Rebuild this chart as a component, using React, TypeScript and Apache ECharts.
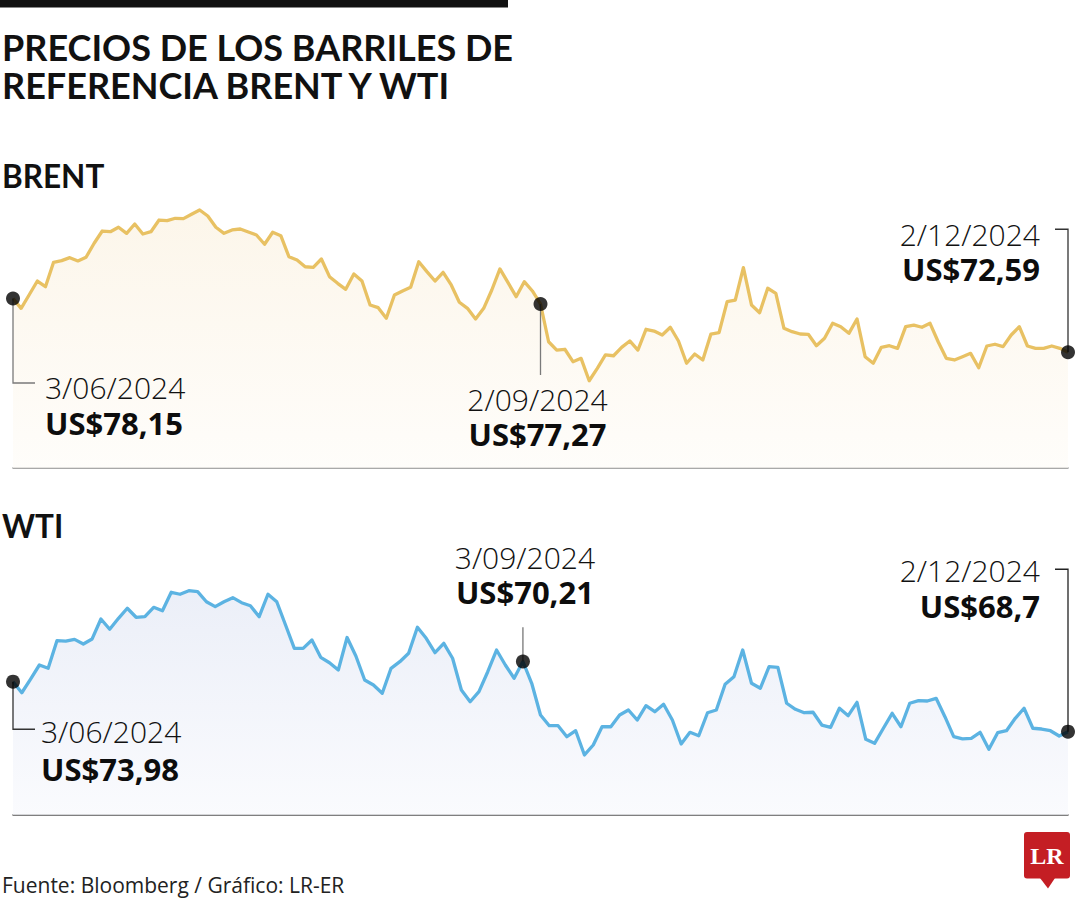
import React, { useEffect, useRef } from "react";
import * as echarts from "echarts";

// Daily closes, US$ per barrel, 3/06/2024 - 2/12/2024
const brentPrices = [
  78.16, 77.14, 78.55, 79.97, 79.38, 81.91, 82.08, 82.39, 82.05, 82.43,
  83.88, 85.15, 85.08, 85.54, 84.91, 85.88, 84.84, 85.08, 86.29, 86.22,
  86.47, 86.43, 86.88, 87.33, 86.71, 85.54, 84.91, 85.26, 85.36, 85.05,
  84.74, 83.78, 85.02, 84.67, 82.49, 82.15, 81.45, 81.39, 82.25, 80.42,
  79.73, 79.11, 80.7, 79.97, 77.49, 77.21, 76.11, 78.52, 78.94, 79.32,
  81.97, 80.94, 79.97, 80.87, 79.56, 77.77, 77.14, 76.04, 77.14, 79.04,
  81.22, 79.8, 78.35, 79.9, 78.94, 77.59, 73.68, 72.82, 72.9, 71.61,
  71.96, 69.64, 70.93, 72.31, 72.23, 73.1, 73.76, 72.82, 74.97, 74.79,
  74.38, 75.18, 73.76, 71.45, 72.41, 71.79, 74.48, 74.62, 77.83, 78.0,
  81.35, 77.49, 76.69, 79.22, 78.7, 75.07, 74.72, 74.48, 74.45, 73.27,
  74.04, 75.59, 75.24, 74.55, 76.04, 72.13, 71.45, 73.1, 73.27, 73.0,
  75.24, 75.41, 75.18, 75.59, 73.68, 71.96, 71.79, 72.13, 72.48, 70.99,
  73.24, 73.42, 73.17, 74.38, 75.24, 73.24, 73.0, 73.0, 73.24, 73.0,
  72.59,
];

const wtiPrices = [
  73.98, 72.81, 74.26, 75.74, 75.39, 78.31, 78.27, 78.45, 77.96, 78.49,
  80.6, 79.51, 80.67, 81.73, 80.78, 80.84, 81.83, 81.47, 83.42, 83.21,
  83.59, 83.48, 82.42, 81.9, 82.42, 82.85, 82.32, 82.0, 80.84, 83.21,
  82.42, 79.96, 77.5, 77.5, 78.38, 76.55, 75.98, 75.21, 78.64, 76.69,
  74.16, 73.63, 72.75, 75.39, 76.09, 76.98, 79.72, 78.56, 77.04, 78.03,
  76.45, 73.1, 71.86, 72.92, 75.03, 77.32, 75.74, 74.34, 76.11, 73.81,
  70.46, 69.33, 69.33, 68.17, 68.8, 66.24, 67.29, 69.22, 69.22, 70.46,
  70.99, 69.93, 71.44, 70.81, 71.59, 69.93, 67.4, 68.63, 68.27, 70.7,
  70.99, 73.7, 74.5, 77.32, 73.81, 73.28, 75.56, 75.5, 71.7, 71.06,
  70.7, 70.75, 69.4, 69.16, 71.17, 70.39, 71.8, 67.89, 67.47, 69.06,
  70.64, 69.22, 71.7, 71.97, 71.94, 72.22, 70.28, 68.17, 67.93, 68.0,
  68.63, 66.84, 68.59, 68.8, 70.11, 71.17, 69.06, 68.98, 68.8, 68.24,
  68.7,
];

const brentNoteIdx = [0, 65, 130];
const brentNoteDates = ["3/06/2024", "2/09/2024", "2/12/2024"];
const brentNotePrices = ["US$78,15", "US$77,27", "US$72,59"];

const wtiNoteIdx = [0, 58, 120];
const wtiNoteDates = ["3/06/2024", "3/09/2024", "2/12/2024"];
const wtiNotePrices = ["US$73,98", "US$70,21", "US$68,7"];

const chartTitle = ["PRECIOS DE LOS BARRILES DE", "REFERENCIA BRENT Y WTI"];
const panelTitles = ["BRENT", "WTI"];
const sourceText = "Fuente: Bloomberg / Gráfico: LR-ER";
const logoText = "LR";

const W = 1080;
const H = 900;

type Kind = "startBelow" | "midBelow" | "midAbove" | "endAbove";
type Layout = {
  kind: Kind;
  elbow: number;
  textDx: number;
  dateDy: number;
  priceDy: number;
  lineColor: string;
};

const brentLayouts: Layout[] = [
  { kind: "startBelow", elbow: 84.5, textDx: 32, dateDy: 89.5, priceDy: 124.8, lineColor: "#7a7a7a" },
  { kind: "midBelow", elbow: 71, textDx: -3, dateDy: 95.3, priceDy: 130.2, lineColor: "#7a7a7a" },
  { kind: "endAbove", elbow: -123, textDx: -28, dateDy: -118.1, priceDy: -83.1, lineColor: "#333333" },
];
const wtiLayouts: Layout[] = [
  { kind: "startBelow", elbow: 47.6, textDx: 28, dateDy: 50.3, priceDy: 87, lineColor: "#333333" },
  { kind: "midAbove", elbow: -34.2, textDx: 2, dateDy: -104.3, priceDy: -69, lineColor: "#777777" },
  { kind: "endAbove", elbow: -162.4, textDx: -28, dateDy: -161.2, priceDy: -125.5, lineColor: "#222222" },
];

const DATE_FONT = { fontSize: 30, lineHeight: 30, fontFamily: "'Open Sans', sans-serif", fontWeight: 300 };
const PRICE_FONT = { fontSize: 31, lineHeight: 31, fontFamily: "'Open Sans', sans-serif", fontWeight: 700 };

function buildNotes(
  chart: echarts.ECharts,
  gridIndex: number,
  data: number[],
  idxs: number[],
  dates: string[],
  prices: string[],
  layouts: Layout[]
) {
  const els: any[] = [];
  idxs.forEach((idx, k) => {
    const p = chart.convertToPixel({ gridIndex } as any, [idx, data[idx]]) as number[];
    const px = p[0];
    const py = p[1];
    const L = layouts[k];
    const stroke = { stroke: L.lineColor, lineWidth: 1.3, fill: null };
    let align = "left";
    if (L.kind === "startBelow") {
      els.push({
        type: "polyline",
        z: 10,
        shape: { points: [[px, py], [px, py + L.elbow], [px + 22, py + L.elbow]] },
        style: stroke,
      });
      align = "left";
    } else if (L.kind === "midBelow" || L.kind === "midAbove") {
      els.push({
        type: "line",
        z: 10,
        shape: { x1: px, y1: py, x2: px, y2: py + L.elbow },
        style: stroke,
      });
      align = "center";
    } else {
      els.push({
        type: "polyline",
        z: 10,
        shape: { points: [[px, py], [px, py + L.elbow], [px - 13, py + L.elbow]] },
        style: stroke,
      });
      align = "right";
    }
    els.push({
      type: "text",
      z: 11,
      x: px + L.textDx,
      y: py + L.dateDy,
      style: {
        text: dates[k],
        fill: "#111111",
        ...DATE_FONT,
        textAlign: align,
        textVerticalAlign: "middle",
        verticalAlign: "middle",
      },
    });
    els.push({
      type: "text",
      z: 11,
      x: px + L.textDx,
      y: py + L.priceDy,
      style: {
        text: prices[k],
        fill: "#0d0d0d",
        ...PRICE_FONT,
        textAlign: align,
        textVerticalAlign: "middle",
        verticalAlign: "middle",
      },
    });
  });
  return els;
}

function staticGraphics() {
  const headFont = { fontFamily: "Lato, sans-serif", fontWeight: 700 };
  const mk = (text: string, x: number, y: number, extra: any) => ({
    type: "text",
    z: 11,
    x,
    y,
    style: { text, fill: "#111111", textAlign: "left", textVerticalAlign: "middle", verticalAlign: "middle", ...extra },
  });
  return [
    { type: "rect", z: 11, shape: { x: 0, y: 0, width: 508, height: 7.5 }, style: { fill: "#111111" } },
    mk(chartTitle[0], 2, 46.5, { ...headFont, fontSize: 36, lineHeight: 36 }),
    mk(chartTitle[1], 2, 84.5, { ...headFont, fontSize: 36, lineHeight: 36 }),
    mk(panelTitles[0], 2, 175.5, { ...headFont, fontSize: 31.5, lineHeight: 32 }),
    mk(panelTitles[1], 2, 525.5, { ...headFont, fontSize: 31.5, lineHeight: 32 }),
    mk(sourceText, 2, 885, {
      fontFamily: "'Open Sans', sans-serif",
      fontWeight: 400,
      fontSize: 21,
      lineHeight: 21,
      fill: "#222222",
    }),
    {
      type: "group",
      x: 1024,
      y: 832,
      z: 11,
      children: [
        { type: "rect", shape: { x: 0, y: 0, width: 46, height: 46.5, r: 3 }, style: { fill: "#c41e24" } },
        { type: "polygon", shape: { points: [[16, 46], [31, 46], [24, 56.5]] }, style: { fill: "#c41e24" } },
        {
          type: "text",
          x: 23,
          y: 24,
          style: {
            text: logoText,
            fill: "#ffffff",
            fontFamily: "'Liberation Serif', 'DejaVu Serif', serif",
            fontWeight: 700,
            fontSize: 24,
            lineHeight: 24,
            textAlign: "center",
            textVerticalAlign: "middle",
            verticalAlign: "middle",
          },
        },
      ],
    },
  ];
}

export default function App() {
  const ref = useRef<HTMLDivElement>(null);

  useEffect(() => {
    document.body.style.margin = "0";
    const el = ref.current;
    if (!el) return;
    const chart = echarts.init(el, null, { renderer: "svg", width: W, height: H });

    const brentCats = brentPrices.map((_, i) => String(i));
    const wtiCats = wtiPrices.map((_, i) => String(i));

    const option: any = {
      animation: false,
      backgroundColor: "#ffffff",
      grid: [
        { left: 13, top: 190, width: 1055, height: 278 },
        { left: 13, top: 540, width: 1055, height: 275 },
      ],
      xAxis: [
        {
          type: "category",
          gridIndex: 0,
          data: brentCats,
          boundaryGap: false,
          axisLine: { show: true, lineStyle: { color: "#8c8c8c", width: 1.5 } },
          axisTick: { show: false },
          axisLabel: { show: false },
          splitLine: { show: false },
        },
        {
          type: "category",
          gridIndex: 1,
          data: wtiCats,
          boundaryGap: false,
          axisLine: { show: true, lineStyle: { color: "#555555", width: 1.5 } },
          axisTick: { show: false },
          axisLabel: { show: false },
          splitLine: { show: false },
        },
      ],
      yAxis: [
        { type: "value", gridIndex: 0, min: 60.6, max: 89.4, show: false, splitLine: { show: false } },
        { type: "value", gridIndex: 1, min: 59.9, max: 88.94, show: false, splitLine: { show: false } },
      ],
      series: [
        {
          name: "Brent",
          type: "line",
          xAxisIndex: 0,
          yAxisIndex: 0,
          data: brentPrices,
          symbol: "none",
          z: 2,
          lineStyle: { color: "#e8c163", width: 3.3, join: "round" },
          areaStyle: {
            color: new echarts.graphic.LinearGradient(0, 0, 0, 1, [
              { offset: 0, color: "#fbf2e1" },
              { offset: 1, color: "#fefcf8" },
            ]),
          },
        },
        {
          name: "WTI",
          type: "line",
          xAxisIndex: 1,
          yAxisIndex: 1,
          data: wtiPrices,
          symbol: "none",
          z: 2,
          lineStyle: { color: "#5cb3e2", width: 3.3, join: "round" },
          areaStyle: {
            color: new echarts.graphic.LinearGradient(0, 0, 0, 1, [
              { offset: 0, color: "#e3e8f5" },
              { offset: 1, color: "#f8f9fd" },
            ]),
          },
        },
        {
          name: "Brent marks",
          type: "scatter",
          xAxisIndex: 0,
          yAxisIndex: 0,
          z: 20,
          symbol: "circle",
          symbolSize: 14,
          itemStyle: { color: "#000000" },
          data: brentNoteIdx.map((i) => [i, brentPrices[i]]),
        },
        {
          name: "WTI marks",
          type: "scatter",
          xAxisIndex: 1,
          yAxisIndex: 1,
          z: 20,
          symbol: "circle",
          symbolSize: 14,
          itemStyle: { color: "#000000" },
          data: wtiNoteIdx.map((i) => [i, wtiPrices[i]]),
        },
      ],
    };

    chart.setOption(option);

    const graphics = [
      ...staticGraphics(),
      ...buildNotes(chart, 0, brentPrices, brentNoteIdx, brentNoteDates, brentNotePrices, brentLayouts),
      ...buildNotes(chart, 1, wtiPrices, wtiNoteIdx, wtiNoteDates, wtiNotePrices, wtiLayouts),
    ];
    chart.setOption({ graphic: graphics });

    return () => {
      chart.dispose();
    };
  }, []);

  return <div ref={ref} style={{ width: W, height: H }} />;
}
